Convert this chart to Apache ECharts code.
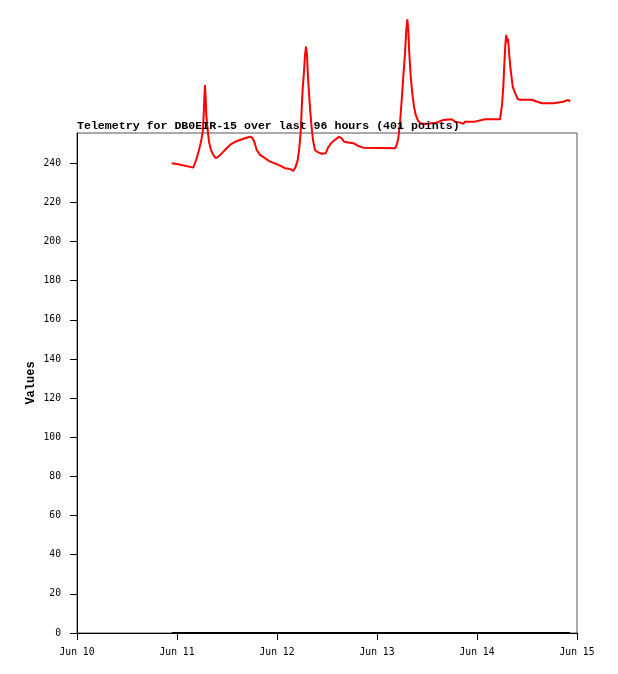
<!DOCTYPE html>
<html>
<head>
<meta charset="utf-8">
<script src="https://cdn.jsdelivr.net/npm/echarts@6/dist/echarts.min.js"></script>
<style>html,body{margin:0;padding:0;background:#fff;}#c{width:618px;height:674px;}</style>
</head>
<body>
<div id="c"></div>
<script>
const titleText = "Telemetry for DB0EIR-15 over last 96 hours (401 points)";
const yAxisName = "Values";
// x positions are hours since Jun 10 00:00
const xTickLabels = ["Jun 10", "Jun 11", "Jun 12", "Jun 13", "Jun 14", "Jun 15"];
const telemetryHours = [
  22.73, 24.31, 25.92, 27.91, 28.32, 28.73, 29.28, 29.76, 30.17, 30.41, 30.55, 30.72, 30.89, 31.03, 31.37, 31.68,
  32.16, 32.71, 33.29, 33.91, 34.73, 35.52, 36.72, 37.92, 39.12, 40.32, 41.52, 42.07, 42.55, 43.13, 43.92, 44.95,
  46.32, 47.52, 48.72, 49.92, 51.12, 51.91, 52.49, 52.97, 53.35, 53.69, 53.93, 54.17, 54.48, 54.72, 54.96, 55.20,
  55.37, 55.68, 55.99, 56.33, 56.71, 57.12, 57.77, 58.73, 59.69, 60.17, 60.96, 61.92, 62.88, 63.53, 64.15, 65.11,
  66.31, 67.37, 68.71,
  69.12, 76.32, 76.73, 77.11, 77.52, 77.93, 78.31, 78.72, 79.03, 79.27, 79.51, 79.75, 80.09, 80.47, 80.88, 81.29,
  81.77, 82.32, 83.52, 85.13, 86.33, 87.91, 89.93, 90.72, 91.92, 92.71, 93.12, 95.52, 95.93, 97.92, 101.52, 101.83,
  102.00, 102.31, 102.55, 102.79, 103.03, 103.27, 103.44, 103.68, 103.99, 104.33, 104.57, 104.95, 105.36, 105.77,
  106.32, 109.13, 109.37, 111.53, 114.31, 114.72, 116.71, 116.95, 117.91, 118.32
];
const telemetryValues = [
  240.0, 239.5, 238.8, 237.8, 238.3, 242.6, 246.8, 251.0, 256.0, 264.7, 273.0, 280.0, 273.0, 264.7, 257.0, 251.0,
  246.8, 244.3, 242.6, 243.4, 245.1, 246.8, 249.4, 251.0, 251.9, 252.8, 253.6, 253.1, 251.0, 246.8, 244.3, 242.9,
  240.9, 240.0, 238.8, 237.5, 237.1, 236.1, 238.3, 241.7, 247.7, 256.2, 268.1, 278.3, 286.8, 295.3, 299.6, 295.3,
  286.8, 275.8, 266.4, 257.9, 251.0, 246.8, 245.7, 244.9, 245.1, 247.7, 250.3, 252.0, 253.6, 252.8, 251.0, 250.7,
  250.3, 249.0, 248.0,
  247.7, 247.7, 249.4, 252.8, 260.5, 272.4, 284.3, 296.2, 308.1, 313.6, 308.1, 296.2, 284.3, 275.8, 269.0, 264.7,
  262.2, 260.5, 260.1, 260.5, 260.8, 262.2, 262.5, 261.3, 260.8, 260.2, 261.3, 261.3, 262.2, 262.5, 262.5, 262.5,
  269.8, 279.2, 290.2, 300.5, 305.6, 302.0, 303.7, 297.0, 289.4, 283.4, 279.2, 277.0, 274.9, 272.9,
  272.5, 272.5, 271.5, 270.7, 270.7, 271.5, 271.5, 272.4, 272.4, 271.5
];
const zeroHours = [22.73, 118.32];
const zeroValues = [0, 0];

const chart = echarts.init(document.getElementById('c'), null, {renderer: 'canvas'});
const mono = "'Liberation Mono', 'DejaVu Sans Mono', monospace";
chart.setOption({
  animation: false,
  backgroundColor: '#ffffff',
  title: {
    text: titleText,
    left: 77, top: 120,
    padding: 0,
    textStyle: {fontFamily: mono, fontWeight: 'bold', fontSize: 11.6, color: '#000'}
  },
  grid: {left: 77, top: 133, right: 41, bottom: 41, containLabel: false, outerBoundsMode: 'none',
         show: true, borderColor: '#555', borderWidth: 1, backgroundColor: 'transparent'},
  xAxis: {
    type: 'value', min: 0, max: 120, interval: 24,
    axisLine: {show: true, onZero: false, lineStyle: {color: '#000', width: 1}},
    axisTick: {show: true, length: 7, lineStyle: {color: '#000'}},
    splitLine: {show: false},
    axisLabel: {
      margin: 14, color: '#000', fontFamily: "'DejaVu Sans Mono', monospace", fontSize: 9.7,
      formatter: v => xTickLabels[Math.round(v / 24)]
    }
  },
  yAxis: {
    type: 'value', min: 0, max: 255.5, interval: 20,
    name: yAxisName, nameLocation: 'middle', nameGap: 40, nameRotate: 90, nameMoveOverlap: false,
    nameTextStyle: {fontFamily: mono, fontWeight: 'bold', fontSize: 12, color: '#000'},
    axisLine: {show: true, lineStyle: {color: '#000', width: 1}},
    axisTick: {show: true, length: 7, lineStyle: {color: '#000'}},
    splitLine: {show: false},
    axisLabel: {margin: 16, color: '#000', fontFamily: "'DejaVu Sans Mono', monospace", fontSize: 9.7,
                showMaxLabel: false}
  },
  series: [
    {
      type: 'line', data: zeroHours.map((h, i) => [h, zeroValues[i]]),
      showSymbol: false, symbol: 'none', clip: false,
      lineStyle: {color: '#000', width: 2}, z: 3
    },
    {
      type: 'line', data: telemetryHours.map((h, i) => [h, telemetryValues[i]]),
      showSymbol: false, symbol: 'none', clip: false,
      lineStyle: {color: '#ff0000', width: 2}, z: 4
    }
  ]
});
</script>
</body>
</html>
